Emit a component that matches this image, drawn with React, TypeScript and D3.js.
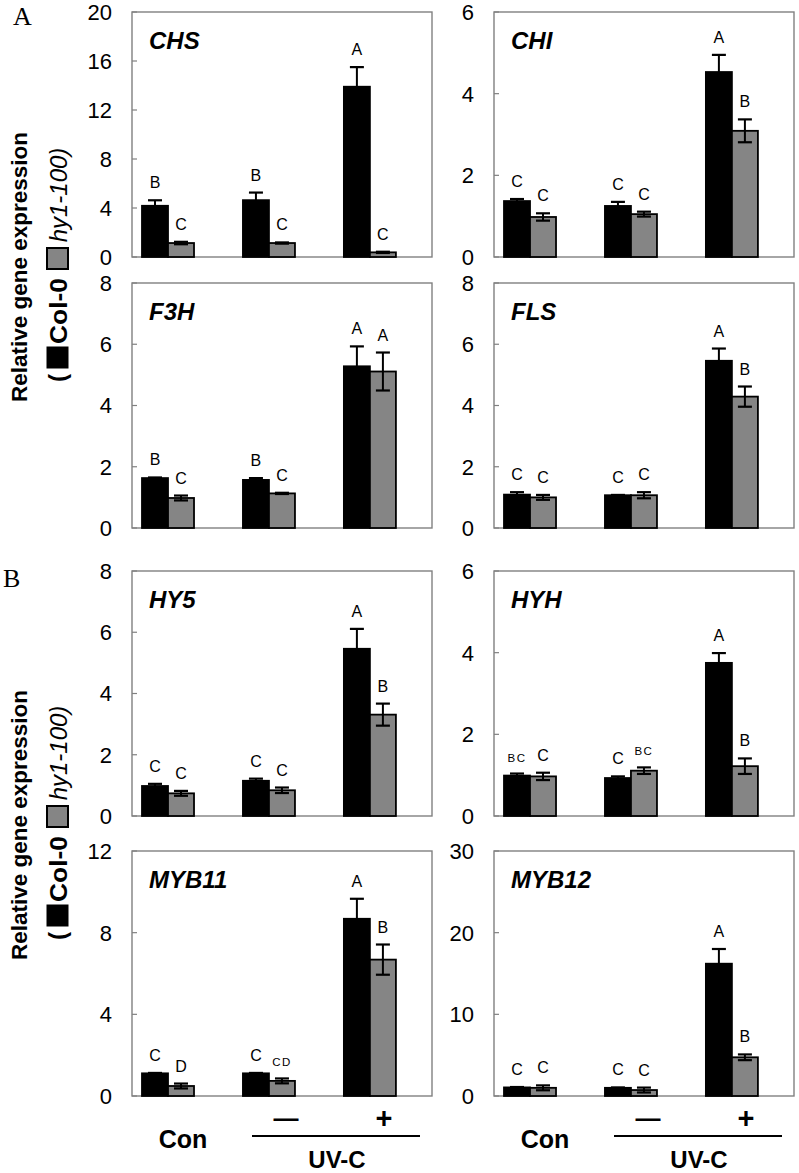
import React from 'react';
import * as d3 from 'd3';

// ---------- DATA ----------
const groups = ['Con', 'UV-C −', 'UV-C +'];

const chsCol = [4.18, 4.64, 13.9];
const chsColErr = [0.45, 0.62, 1.6];
const chsHy = [1.14, 1.14, 0.38];
const chsHyErr = [0.1, 0.05, 0.05];
const chsColSig = ['B', 'B', 'A'];
const chsHySig = ['C', 'C', 'C'];
const chsTicks = [0, 4, 8, 12, 16, 20];

const chiCol = [1.37, 1.25, 4.53];
const chiColErr = [0.05, 0.1, 0.42];
const chiHy = [0.98, 1.05, 3.09];
const chiHyErr = [0.09, 0.06, 0.28];
const chiColSig = ['C', 'C', 'A'];
const chiHySig = ['C', 'C', 'B'];
const chiTicks = [0, 2, 4, 6];

const f3hCol = [1.63, 1.57, 5.28];
const f3hColErr = [0.02, 0.06, 0.65];
const f3hHy = [0.98, 1.13, 5.11];
const f3hHyErr = [0.08, 0.02, 0.62];
const f3hColSig = ['B', 'B', 'A'];
const f3hHySig = ['C', 'C', 'A'];
const f3hTicks = [0, 2, 4, 6, 8];

const flsCol = [1.09, 1.07, 5.46];
const flsColErr = [0.08, 0.01, 0.4];
const flsHy = [1.0, 1.07, 4.29];
const flsHyErr = [0.08, 0.1, 0.33];
const flsColSig = ['C', 'C', 'A'];
const flsHySig = ['C', 'C', 'B'];
const flsTicks = [0, 2, 4, 6, 8];

const hy5Col = [0.98, 1.15, 5.46];
const hy5ColErr = [0.07, 0.07, 0.65];
const hy5Hy = [0.74, 0.84, 3.31];
const hy5HyErr = [0.08, 0.09, 0.36];
const hy5ColSig = ['C', 'C', 'A'];
const hy5HySig = ['C', 'C', 'B'];
const hy5Ticks = [0, 2, 4, 6, 8];

const hyhCol = [0.99, 0.93, 3.75];
const hyhColErr = [0.05, 0.04, 0.24];
const hyhHy = [0.97, 1.11, 1.22];
const hyhHyErr = [0.09, 0.08, 0.19];
const hyhColSig = ['BC', 'C', 'A'];
const hyhHySig = ['C', 'BC', 'B'];
const hyhTicks = [0, 2, 4, 6];

const myb11Col = [1.11, 1.11, 8.68];
const myb11ColErr = [0.02, 0.02, 0.98];
const myb11Hy = [0.49, 0.74, 6.68];
const myb11HyErr = [0.12, 0.12, 0.74];
const myb11ColSig = ['C', 'C', 'A'];
const myb11HySig = ['D', 'CD', 'B'];
const myb11Ticks = [0, 4, 8, 12];

const myb12Col = [1.05, 1.0, 16.2];
const myb12ColErr = [0.05, 0.05, 1.8];
const myb12Hy = [1.0, 0.73, 4.74];
const myb12HyErr = [0.3, 0.3, 0.35];
const myb12ColSig = ['C', 'C', 'A'];
const myb12HySig = ['C', 'C', 'B'];
const myb12Ticks = [0, 10, 20, 30];

const panels = [
  { gene: 'CHS', col: 0, row: 0, c: chsCol, ce: chsColErr, h: chsHy, he: chsHyErr, cs: chsColSig, hs: chsHySig, ticks: chsTicks },
  { gene: 'CHI', col: 1, row: 0, c: chiCol, ce: chiColErr, h: chiHy, he: chiHyErr, cs: chiColSig, hs: chiHySig, ticks: chiTicks },
  { gene: 'F3H', col: 0, row: 1, c: f3hCol, ce: f3hColErr, h: f3hHy, he: f3hHyErr, cs: f3hColSig, hs: f3hHySig, ticks: f3hTicks },
  { gene: 'FLS', col: 1, row: 1, c: flsCol, ce: flsColErr, h: flsHy, he: flsHyErr, cs: flsColSig, hs: flsHySig, ticks: flsTicks },
  { gene: 'HY5', col: 0, row: 2, c: hy5Col, ce: hy5ColErr, h: hy5Hy, he: hy5HyErr, cs: hy5ColSig, hs: hy5HySig, ticks: hy5Ticks },
  { gene: 'HYH', col: 1, row: 2, c: hyhCol, ce: hyhColErr, h: hyhHy, he: hyhHyErr, cs: hyhColSig, hs: hyhHySig, ticks: hyhTicks },
  { gene: 'MYB11', col: 0, row: 3, c: myb11Col, ce: myb11ColErr, h: myb11Hy, he: myb11HyErr, cs: myb11ColSig, hs: myb11HySig, ticks: myb11Ticks },
  { gene: 'MYB12', col: 1, row: 3, c: myb12Col, ce: myb12ColErr, h: myb12Hy, he: myb12HyErr, cs: myb12ColSig, hs: myb12HySig, ticks: myb12Ticks },
];

// ---------- LAYOUT ----------
const W = 799;
const H = 1173;
const COLS = [
  { left: 132, right: 432 },
  { left: 494, right: 794 },
];
const ROW_TOPS = [12, 283, 571, 851];
const PANEL_H = 245;
const SANS = '"Liberation Sans", Arial, Helvetica, sans-serif';
const SERIF = '"Liberation Serif", "Times New Roman", serif';
const AXIS_COLOR = '#808080';
const GRAY = '#858585';

function Panel({ p }: { p: any }) {
  const { left, right } = COLS[p.col];
  const top = ROW_TOPS[p.row];
  const bottom = top + PANEL_H;
  const w = right - left;
  const x = d3.scalePoint<string>().domain(groups).range([left + 0.12 * w, left + 0.793 * w]);
  const bw = 0.0867 * w;
  const yMax = p.ticks[p.ticks.length - 1];
  const y = d3.scaleLinear().domain([0, yMax]).range([bottom, top]);
  const capW = 7;

  const bars: any[] = [];
  groups.forEach((g, i) => {
    const cx = x(g) as number;
    bars.push({ key: 'c' + i, x0: cx - bw, v: p.c[i], e: p.ce[i], sig: p.cs[i], fill: '#000' });
    bars.push({ key: 'h' + i, x0: cx, v: p.h[i], e: p.he[i], sig: p.hs[i], fill: GRAY });
  });

  return (
    <g>
      <rect x={left} y={top} width={w} height={PANEL_H} fill="none" stroke={AXIS_COLOR} strokeWidth={1.4} />
      {p.ticks.map((t: number) => (
        <g key={t}>
          <line x1={left} x2={left + 5} y1={y(t)} y2={y(t)} stroke={AXIS_COLOR} strokeWidth={1.2} />
          <text x={left - 20} y={y(t)} dy="0.36em" textAnchor="end" fontFamily={SANS} fontSize={22} fill="#000">
            {t}
          </text>
        </g>
      ))}
      {bars.map((b) => {
        const cx = b.x0 + bw / 2;
        const yt = y(b.v);
        const ye = y(b.v + b.e);
        const yb = y(Math.max(0, b.v - b.e));
        const small = b.sig.length > 1;
        return (
          <g key={b.key}>
            <rect x={b.x0} y={yt} width={bw} height={bottom - yt} fill={b.fill} stroke="#000" strokeWidth={1.8} />
            <line x1={cx} x2={cx} y1={ye} y2={yb} stroke="#000" strokeWidth={2} />
            <line x1={cx - capW} x2={cx + capW} y1={ye} y2={ye} stroke="#000" strokeWidth={2.2} />
            <line x1={cx - capW} x2={cx + capW} y1={yb} y2={yb} stroke="#000" strokeWidth={2.2} />
            <text
              x={cx}
              y={ye - 12}
              textAnchor="middle"
              fontFamily={SANS}
              fontSize={small ? 11.5 : 16}
              letterSpacing={small ? 1.5 : 0}
              fill="#000"
            >
              {b.sig}
            </text>
          </g>
        );
      })}
      <text x={left + 17} y={top + 37} fontFamily={SANS} fontSize={24} fontWeight="bold" fontStyle="italic" fill="#000">
        {p.gene}
      </text>
    </g>
  );
}

function YLabel({ dy }: { dy: number }) {
  const rot = (xx: number, yy: number) => `translate(${xx},${yy}) rotate(-90)`;
  return (
    <g>
      <text transform={rot(27, 267 + dy)} textAnchor="middle" fontFamily={SANS} fontSize={22.5} fontWeight="bold" fill="#000">
        Relative gene expression
      </text>
      <text transform={rot(66, 378 + dy)} textAnchor="middle" fontFamily={SANS} fontSize={24} fontWeight="bold" fill="#000">
        (
      </text>
      <rect x={47} y={347 + dy} width={21} height={21} fill="#000" stroke="#000" strokeWidth={1} />
      <text transform={rot(67, 311 + dy)} textAnchor="middle" fontFamily={SANS} fontSize={24} fontWeight="bold" fill="#000" textLength={66} lengthAdjust="spacingAndGlyphs">
        Col-0
      </text>
      <rect x={47} y={248 + dy} width={21} height={21} fill={GRAY} stroke="#000" strokeWidth={2} />
      <text transform={rot(67, 195 + dy)} textAnchor="middle" fontFamily={SANS} fontSize={24} fontStyle="italic" fill="#000">
        hy1-100)
      </text>
    </g>
  );
}

function XLabels({ col }: { col: number }) {
  const { left } = COLS[col];
  return (
    <g fontFamily={SANS} fontWeight="bold" fill="#000">
      <text x={left + 51} y={1148} textAnchor="middle" fontSize={25}>Con</text>
      <text x={left + 154} y={1127} textAnchor="middle" fontSize={25}>—</text>
      <text x={left + 252} y={1128} textAnchor="middle" fontSize={29}>+</text>
      <line x1={left + 120} x2={left + 288} y1={1136} y2={1136} stroke="#000" strokeWidth={2} />
      <text x={left + 205} y={1168} textAnchor="middle" fontSize={24}>UV-C</text>
    </g>
  );
}

export default function App() {
  return (
    <svg
      width={W}
      height={H}
      viewBox={`0 0 ${W} ${H}`}
      style={{ position: 'absolute', left: 0, top: 0, background: '#fff' }}
    >
      <rect x={0} y={0} width={W} height={H} fill="#fff" />
      <text x={13} y={25} fontFamily={SERIF} fontSize={26} fill="#000">A</text>
      <text x={3} y={587} fontFamily={SERIF} fontSize={26} fill="#000">B</text>
      <YLabel dy={0} />
      <YLabel dy={558} />
      {panels.map((p) => (
        <Panel key={p.gene} p={p} />
      ))}
      <XLabels col={0} />
      <XLabels col={1} />
    </svg>
  );
}
